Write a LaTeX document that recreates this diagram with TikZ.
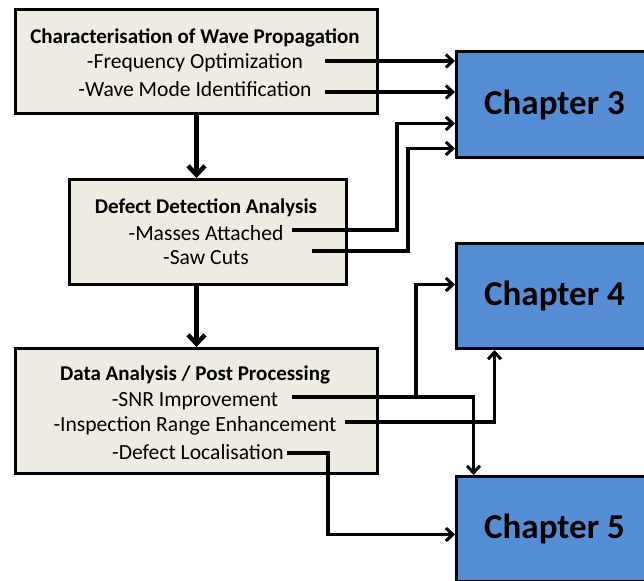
\documentclass[tikz,border=0pt]{standalone}
\usepackage{fontspec}
\setmainfont{Carlito}
\usetikzlibrary{arrows.meta}
\definecolor{boxbeige}{HTML}{EEECE1}
\definecolor{chblue}{HTML}{558ED5}
\begin{document}
\begin{tikzpicture}[x=1pt,y=-1pt,
  box/.style={draw=black, line width=3pt, fill=boxbeige, inner sep=0pt, anchor=north west},
  chap/.style={draw=black, line width=3pt, fill=chblue, inner sep=0pt, anchor=north west,
    font=\fontsize{35}{38}\selectfont\bfseries},
  ttl/.style={font=\fontsize{21}{24}\selectfont\bfseries, inner sep=0pt, yshift=-2pt},
  itm/.style={font=\fontsize{21.6}{24}\selectfont, inner sep=0pt, yshift=-2pt},
  conn/.style={line width=3.2pt, -{Straight Barb[length=7pt,width=13pt,line width=3pt]}},
  flow/.style={line width=4.6pt, -{Straight Barb[length=9pt,width=17pt,line width=4.4pt]}}]
\useasboundingbox (0,0) rectangle (644,580);
\clip (0,0) rectangle (644,580);

% boxes
\node[box, minimum width=362pt, minimum height=104pt] (b1) at (14,8) {};
\node[box, minimum width=277pt, minimum height=105pt] (b2) at (68,178) {};
\node[box, minimum width=362pt, minimum height=125pt] (b3) at (14,347) {};
\node[chap, minimum width=196pt, minimum height=106pt] (c3) at (455,50) {Chapter 3};
\node[chap, minimum width=196pt, minimum height=105pt] (c4) at (455,242) {Chapter 4};
\node[chap, minimum width=196pt, minimum height=105pt] (c5) at (455,475) {Chapter 5};

% texts
\node[ttl] (t1) at (195,36) {Characterisation of Wave Propagation};
\node[itm] (f1) at (195,61) {-Frequency Optimization};
\node[itm] (f2) at (195,87) {-Wave Mode Identification};
\node[ttl] (t2) at (206,206) {Defect Detection Analysis};
\node[itm] (m1) at (206,231) {-Masses Attached};
\node[itm] (m2) at (206,256) {-Saw Cuts};
\node[ttl] (t3) at (195,373) {Data Analysis / Post Processing};
\node[itm] (d1) at (195,399) {-SNR Improvement};
\node[itm] (d2) at (195,424) {-Inspection Range Enhancement};
\node[itm] (d3) at (198,450) {-Defect Localisation};

% connector start points
\coordinate (a1) at (325,61);
\coordinate (a2) at (325,92);
\coordinate (a3) at (292,230);
\coordinate (a4) at (312,251);
\coordinate (a5) at (292,397);
\coordinate (j5) at (416,397);
\coordinate (a6) at (345,422);
\coordinate (a7) at (287,453);

% main flow
\draw[flow] (b1.south) -- (b1.south |- b2.north);
\draw[flow] (b3.north |- b2.south) -- (b3.north);

% connectors
\draw[conn] (a1) -- (a1 -| c3.west);
\draw[conn] (a2) -- (a2 -| c3.west);
\draw[conn] (a3) -- ++(105,0) |- ([yshift=-19pt]c3.west);
\draw[conn] (a4) -- ++(96,0) |- ([yshift=-44pt]c3.west);
\draw[conn] (a5) -| ([xshift=-81pt]c5.north);
\draw[conn] (j5) |- ([yshift=11.5pt]c4.west);
\draw[conn] (a6) -| ([xshift=-60pt]c4.south);
\draw[conn] (a7) -- ++(41,0) |- ([yshift=-5.5pt]c5.west);
\end{tikzpicture}
\end{document}
